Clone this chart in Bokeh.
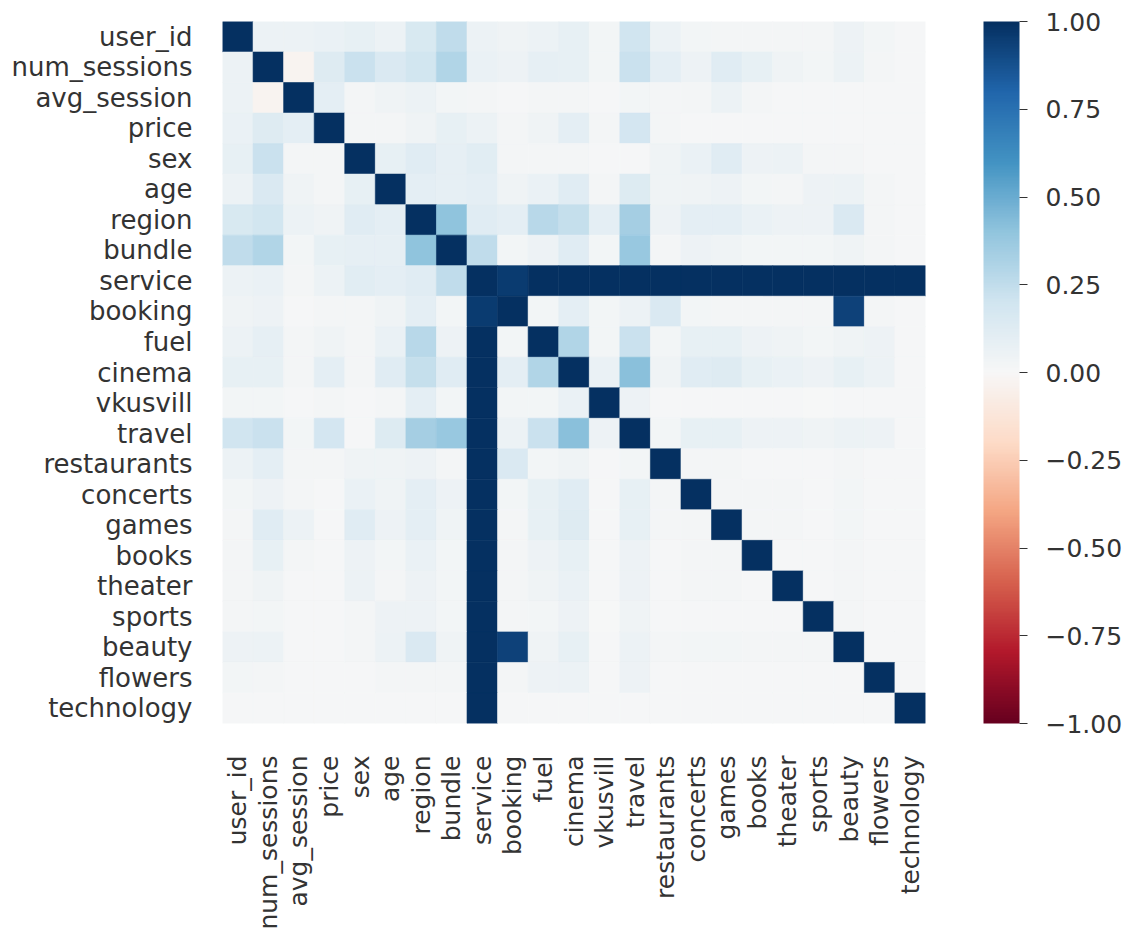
import numpy as np
from bokeh.plotting import figure
from bokeh.models import (LinearColorMapper, ColorBar, FixedTicker,
                          CustomJSTickFormatter, ColumnDataSource)
from bokeh.transform import transform
from bokeh.embed import file_html
from bokeh.resources import INLINE

labels = ["user_id", "num_sessions", "avg_session", "price", "sex", "age",
          "region", "bundle", "service", "booking", "fuel", "cinema",
          "vkusvill", "travel", "restaurants", "concerts", "games", "books",
          "theater", "sports", "beauty", "flowers", "technology"]

r_user_id      = [1.00, .06, .06, .07, .08, .06, .16, .25, .06, .04, .06, .08, .03, .20, .06, .03, .02, .02, .02, .02, .05, .03, .01]
r_num_sessions = [.06, 1.00, -.03, .13, .22, .15, .19, .30, .07, .05, .09, .08, .03, .22, .10, .05, .12, .08, .04, .03, .06, .02, .01]
r_avg_session  = [.06, -.03, 1.00, .10, .02, .04, .06, .03, .02, .01, .02, .02, .01, .03, .02, .02, .06, .02, .01, .01, .01, .01, .01]
r_price        = [.07, .13, .10, 1.00, .02, .02, .04, .08, .06, .02, .04, .10, .02, .18, .02, .01, .01, .01, .01, .01, .01, .01, .01]
r_sex          = [.08, .22, .02, .02, 1.00, .08, .12, .09, .11, .02, .02, .02, .01, .01, .04, .07, .12, .05, .06, .02, .02, .01, .01]
r_age          = [.06, .15, .04, .02, .08, 1.00, .10, .09, .10, .04, .07, .12, .02, .14, .04, .04, .05, .03, .02, .05, .06, .02, .01]
r_region       = [.16, .19, .06, .04, .12, .10, 1.00, .40, .12, .10, .28, .24, .10, .34, .05, .10, .10, .07, .05, .05, .15, .02, .01]
r_bundle       = [.25, .30, .03, .08, .09, .09, .40, 1.00, .25, .03, .05, .12, .03, .38, .02, .05, .04, .03, .03, .03, .04, .02, .01]
r_service      = [.06, .07, .02, .06, .11, .10, .12, .25, 1.00, .96, 1.00, 1.00, 1.00, 1.00, 1.00, 1.00, 1.00, 1.00, 1.00, 1.00, 1.00, 1.00, 1.00]
r_booking      = [.04, .05, .01, .02, .02, .04, .10, .03, .96, 1.00, .03, .10, .03, .06, .15, .03, .02, .02, .02, .02, .93, .02, .01]
r_fuel         = [.06, .09, .02, .04, .02, .07, .28, .05, 1.00, .03, 1.00, .30, .03, .22, .03, .08, .08, .05, .04, .03, .04, .05, .01]
r_cinema       = [.08, .08, .02, .10, .02, .12, .24, .12, 1.00, .10, .30, 1.00, .07, .42, .04, .12, .13, .08, .07, .05, .08, .06, .01]
r_vkusvill     = [.03, .03, .01, .02, .01, .02, .10, .03, 1.00, .03, .03, .07, 1.00, .05, .01, .01, .01, .01, .01, .00, .01, .01, .01]
r_travel       = [.20, .22, .03, .18, .01, .14, .34, .38, 1.00, .06, .22, .42, .05, 1.00, .03, .08, .08, .05, .05, .04, .06, .05, .01]
r_restaurants  = [.06, .10, .02, .02, .04, .04, .05, .02, 1.00, .15, .03, .04, .01, .03, 1.00, .02, .02, .01, .01, .01, .02, .01, .01]
r_concerts     = [.03, .05, .02, .01, .07, .04, .10, .05, 1.00, .03, .08, .12, .01, .08, .02, 1.00, .02, .02, .02, .01, .03, .01, .01]
r_games        = [.02, .12, .06, .01, .12, .05, .10, .04, 1.00, .02, .08, .13, .01, .08, .02, .02, 1.00, .02, .02, .01, .03, .01, .01]
r_books        = [.02, .08, .02, .01, .05, .03, .07, .03, 1.00, .02, .05, .08, .01, .05, .01, .02, .02, 1.00, .01, .01, .02, .01, .01]
r_theater      = [.02, .04, .01, .01, .06, .02, .05, .03, 1.00, .02, .04, .07, .01, .05, .01, .02, .02, .01, 1.00, .01, .02, .01, .01]
r_sports       = [.02, .03, .01, .01, .02, .05, .05, .03, 1.00, .02, .03, .05, .00, .04, .01, .01, .01, .01, .01, 1.00, .02, .01, .01]
r_beauty       = [.05, .06, .01, .01, .02, .06, .15, .04, 1.00, .93, .04, .08, .01, .06, .02, .03, .03, .02, .02, .02, 1.00, .01, .01]
r_flowers      = [.03, .02, .01, .01, .01, .02, .02, .02, 1.00, .02, .05, .06, .01, .05, .01, .01, .01, .01, .01, .01, .01, 1.00, .01]
r_technology   = [.01, .01, .01, .01, .01, .01, .01, .01, 1.00, .01, .01, .01, .01, .01, .01, .01, .01, .01, .01, .01, .01, .01, 1.00]

rows = [r_user_id, r_num_sessions, r_avg_session, r_price, r_sex, r_age,
        r_region, r_bundle, r_service, r_booking, r_fuel, r_cinema,
        r_vkusvill, r_travel, r_restaurants, r_concerts, r_games, r_books,
        r_theater, r_sports, r_beauty, r_flowers, r_technology]

cbar_ticks = [-1.0, -0.75, -0.5, -0.25, 0.0, 0.25, 0.5, 0.75, 1.0]

# RdBu diverging colormap (red = -1, blue = +1), smoothly interpolated
anchors = ["#67001f", "#b2182b", "#d6604d", "#f4a582", "#fddbc7", "#f7f7f7",
           "#d1e5f0", "#92c5de", "#4393c3", "#2166ac", "#053061"]
rgb = np.array([[int(h[i:i + 2], 16) for i in (1, 3, 5)] for h in anchors], float)
pos = np.linspace(0, 1, len(anchors))
t = np.linspace(0, 1, 256)
pal = ["#%02x%02x%02x" % tuple(int(round(np.interp(tt, pos, rgb[:, k]))) for k in range(3)) for tt in t]

mapper = LinearColorMapper(palette=pal, low=-1, high=1)

xs, ys, vs = [], [], []
for i, r in enumerate(rows):
    for j, v in enumerate(r):
        xs.append(labels[j])
        ys.append(labels[i])
        vs.append(v)
src = ColumnDataSource(dict(x=xs, y=ys, v=vs))

p = figure(x_range=labels, y_range=labels[::-1],
           frame_width=703, frame_height=702,
           min_border_left=222, min_border_top=21, min_border_bottom=150,
           min_border_right=200,
           output_backend="svg", toolbar_location=None)
p.rect("x", "y", width=1, height=1, source=src,
       fill_color=transform("v", mapper), line_color=transform("v", mapper),
       line_width=0.6)

p.grid.visible = False
p.outline_line_color = None
for ax in (p.xaxis, p.yaxis):
    ax.axis_line_color = None
    ax.major_tick_line_color = None
    ax.minor_tick_line_color = None
    ax.major_label_text_font = "DejaVu Sans"
    ax.major_label_text_color = "#333333"
p.yaxis.major_label_text_font_size = "26px"
p.xaxis.major_label_text_font_size = "25px"
p.yaxis.major_label_standoff = 24
p.xaxis.major_label_standoff = 26
p.xaxis.major_label_orientation = np.pi / 2

cb = ColorBar(color_mapper=mapper,
              ticker=FixedTicker(ticks=cbar_ticks),
              formatter=CustomJSTickFormatter(code="return (tick < 0 ? '\u2212' : '') + Math.abs(tick).toFixed(2);"),
              width=36, height=702, margin=0, padding=0,
              location=(761, 0),
              major_label_text_font="DejaVu Sans",
              major_label_text_font_size="25px",
              major_label_text_color="#333333",
              major_tick_in=0, major_tick_out=8,
              major_tick_line_color="#333333",
              minor_tick_line_color=None,
              label_standoff=18,
              bar_line_color=None, border_line_color=None,
              background_fill_color=None)
p.add_layout(cb)

open("out.html", "w").write(file_html(p, INLINE))
